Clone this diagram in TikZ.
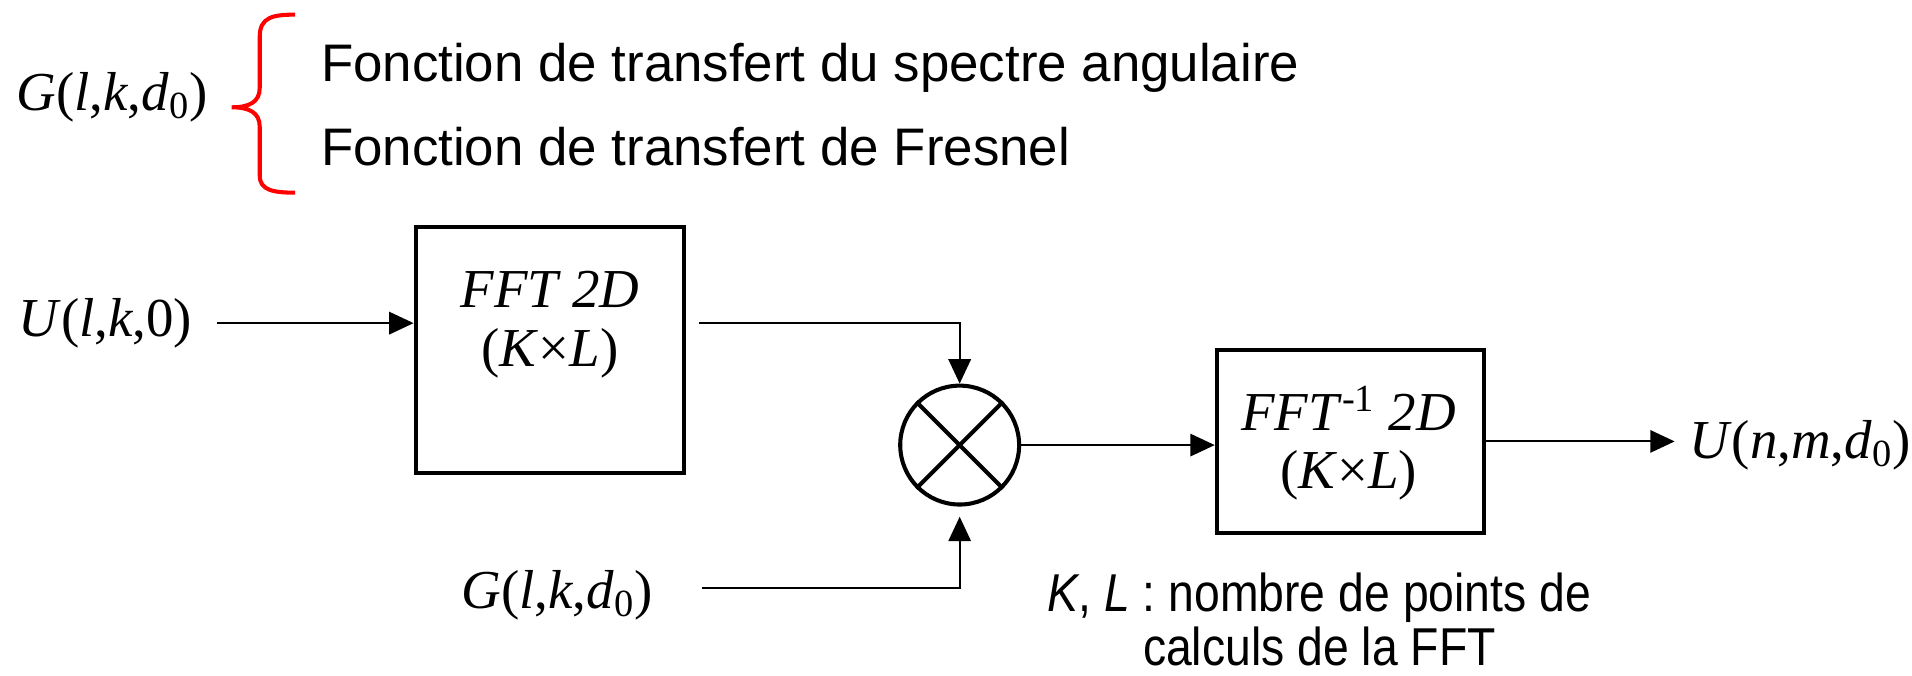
\documentclass[tikz,border=0pt]{standalone}
\usepackage{fontspec}
\setmainfont{Liberation Serif}
\newfontfamily\arial{Liberation Sans}
\usetikzlibrary{arrows.meta}
\newcommand{\sertext}{\fontsize{27}{32}\selectfont}
\newcommand{\santext}{\arial\fontsize{26}{30}\selectfont}
\newcommand{\notetext}{\arial\fontsize{22.8}{21.5}\selectfont}
\begin{document}
\begin{tikzpicture}[x=0.6pt,y=-0.6pt,
  lbl/.style={inner sep=0pt,font=\sertext},
  ftxt/.style={inner sep=0pt,font=\santext,anchor=base west},
  blockbox/.style={draw,line width=2.2pt,inner sep=0pt},
  arr/.style={line width=1pt,-{Triangle[length=12pt,width=11pt]}},
  brace/.style={draw=red,line width=2pt}
]
\useasboundingbox (0,0) rectangle (1568,554);

% top: G and the brace
\node[lbl] (gtop) at (92,80) {\textit{G}(\textit{l},\textit{k},\textit{d}\textsubscript{0})};
\path[brace] (242,12) .. controls (224,12) and (213,14) .. (213,30) -- (213,72)
  .. controls (213,84) and (204,88) .. (190,88)
  .. controls (204,88) and (213,92) .. (213,104) -- (213,144)
  .. controls (213,156) and (224,158) .. (242,158);
\node[ftxt] (f1) at (263,67) {Fonction de transfert du spectre angulaire};
\node[ftxt] (f2) at (263,136) {Fonction de transfert de Fresnel};

% first block
\node[blockbox,minimum width=132pt,minimum height=121.2pt] (box1) at (451,287) {};
\node[lbl] (t1a) at (451,237) {\textit{FFT 2D}};
\node[lbl] (t1b) at (451,290) {(\textit{K}\texttimes\textit{L})};

% input
\node[lbl,anchor=east] (uin) at (158,265) {\textit{U}(\textit{l},\textit{k},0)};
\draw[arr] ([xshift=12pt]uin.east) -- (uin.east -| box1.west);

% multiplier
\node[draw,circle,line width=2pt,minimum size=58.5pt,inner sep=0pt] (mul) at (787,365) {};
\draw[line width=2pt] (mul.north west) -- (mul.south east);
\draw[line width=2pt] (mul.north east) -- (mul.south west);

\coordinate (o1) at (573,265);
\draw[arr] (o1) -| (mul.north);

% lower G
\node[lbl] (glow) at (457,488) {\textit{G}(\textit{l},\textit{k},\textit{d}\textsubscript{0})};
\coordinate (o2) at (576,482);
\draw[arr,shorten >=5pt] (o2) -| (mul.south);

% second block
\node[blockbox,minimum width=131.4pt,minimum height=90pt] (box2) at (1107.5,362) {};
\node[lbl] (t2a) at (1106,335) {\textit{FFT}\textsuperscript{-1} \textit{2D}};
\node[lbl] (t2b) at (1106,390) {(\textit{K}\texttimes\textit{L})};

\draw[arr] (mul.east) -- (mul.east -| box2.west);

% output
\node[lbl,anchor=west] (uout) at (1385,365) {\textit{U}(\textit{n},\textit{m},\textit{d}\textsubscript{0})};
\draw[arr] (box2.east) -- ([xshift=-7pt]uout.west |- box2.east);

% note
\node[inner sep=0pt,font=\notetext] (note) at (1082,514)
  {\scalebox{1}[1.15]{\begin{tabular}{@{}c@{}}\textit{K}, \textit{L} : nombre de points de\\calculs de la FFT\end{tabular}}};
\end{tikzpicture}
\end{document}
